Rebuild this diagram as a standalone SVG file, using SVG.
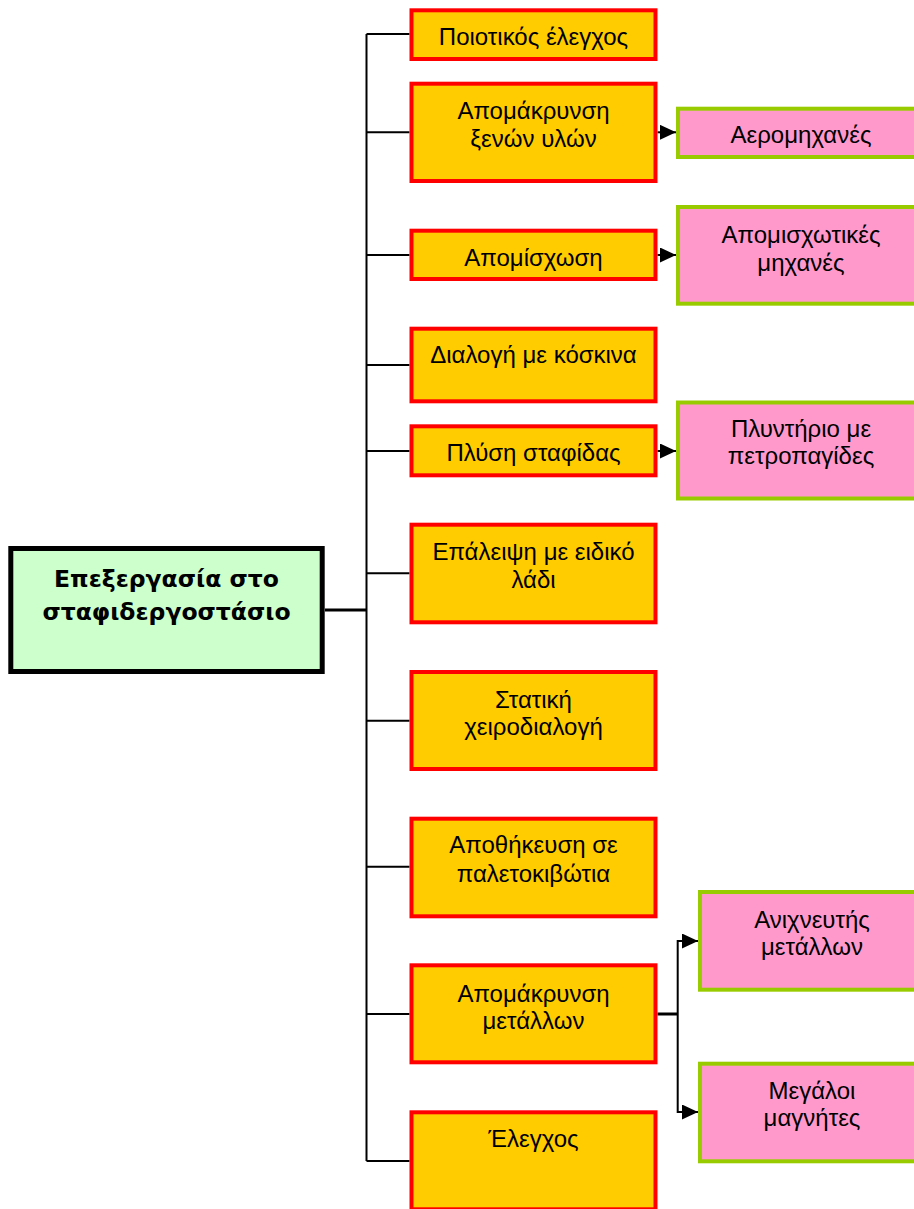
<svg xmlns="http://www.w3.org/2000/svg" width="914" height="1209" viewBox="0 0 914 1209">
<style>
.y{fill:#FFCC00;stroke:#FF0000;stroke-width:4}
.p{fill:#FF99CC;stroke:#99CC00;stroke-width:4}
.m{fill:#CCFFCC;stroke:#000;stroke-width:5}
.t{font-family:"Liberation Sans",Arial,sans-serif;font-size:24px;fill:#000;text-anchor:middle}
.tb{font-family:"DejaVu Sans",Verdana,sans-serif;font-size:23.5px;font-weight:bold;fill:#000;text-anchor:middle}
.c{fill:none;stroke:#000;stroke-width:2}
</style>
<defs>
<marker id="ah" viewBox="0 0 16 15" refX="16" refY="7.5" markerWidth="16" markerHeight="15" markerUnits="userSpaceOnUse" orient="auto">
<path d="M0,0 L16,7.5 L0,15 z" fill="#000"/>
</marker>
</defs>
<g id="connectors">
<path class="c" d="M366.5,34 V1161"/>
<path class="c" d="M325,610 H366.5" style="stroke-width:3"/>
<path class="c" d="M366.5,34 H409.5 M366.5,132.3 H409.5 M366.5,255 H409.5 M366.5,365 H409.5 M366.5,451 H409.5 M366.5,573.3 H409.5 M366.5,720.7 H409.5 M366.5,866.7 H409.5 M366.5,1014 H409.5 M366.5,1161 H409.5"/>
<path class="c" d="M657.5,132.3 H676" marker-end="url(#ah)"/>
<path class="c" d="M657.5,255 H676" marker-end="url(#ah)"/>
<path class="c" d="M657.5,451 H676" marker-end="url(#ah)"/>
<path class="c" d="M657.5,1014 H677.7" style="stroke-width:3"/>
<path class="c" d="M677.7,1014 V941 H698" marker-end="url(#ah)"/>
<path class="c" d="M677.7,1014 V1112 H698" marker-end="url(#ah)"/>
</g>
<g id="main">
<rect class="m" x="10.8" y="548.5" width="311.4" height="123"/>
<text class="tb" x="166.5" y="586.7">Επεξεργασία στο</text>
<text class="tb" x="166.5" y="620">σταφιδεργοστάσιο</text>
</g>
<g id="n1">
<rect class="y" x="411.5" y="10.3" width="244" height="48.7"/>
<text class="t" x="533.5" y="45">Ποιοτικός έλεγχος</text>
</g>
<g id="n2">
<rect class="y" x="411.5" y="83.7" width="244" height="97.3"/>
<text class="t" x="533.5" y="119.3">Απομάκρυνση</text>
<text class="t" x="533.5" y="146.5">ξενών υλών</text>
</g>
<g id="n3">
<rect class="y" x="411.5" y="230.7" width="244" height="48.3"/>
<text class="t" x="533.5" y="265.5">Απομίσχωση</text>
</g>
<g id="n4">
<rect class="y" x="411.5" y="328.7" width="244" height="72.6"/>
<text class="t" x="533.5" y="363.3">Διαλογή με κόσκινα</text>
</g>
<g id="n5">
<rect class="y" x="411.5" y="426.3" width="244" height="49"/>
<text class="t" x="533.5" y="461">Πλύση σταφίδας</text>
</g>
<g id="n6">
<rect class="y" x="411.5" y="524.7" width="244" height="97.6"/>
<text class="t" x="533.5" y="560">Επάλειψη με ειδικό</text>
<text class="t" x="533.5" y="588.3">λάδι</text>
</g>
<g id="n7">
<rect class="y" x="411.5" y="672" width="244" height="97"/>
<text class="t" x="533.5" y="707.5">Στατική</text>
<text class="t" x="533.5" y="735">χειροδιαλογή</text>
</g>
<g id="n8">
<rect class="y" x="411.5" y="818.7" width="244" height="97.6"/>
<text class="t" x="533.5" y="853.3">Αποθήκευση σε</text>
<text class="t" x="533.5" y="881.7">παλετοκιβώτια</text>
</g>
<g id="n9">
<rect class="y" x="411.5" y="965.3" width="244" height="97"/>
<text class="t" x="533.5" y="1001.7">Απομάκρυνση</text>
<text class="t" x="533.5" y="1029">μετάλλων</text>
</g>
<g id="n10">
<rect class="y" x="411.5" y="1112.3" width="244" height="97"/>
<text class="t" x="533.5" y="1147">Έλεγχος</text>
</g>
<g id="p1">
<rect class="p" x="678" y="108.7" width="246" height="48.3"/>
<text class="t" x="801" y="143.3">Αερομηχανές</text>
</g>
<g id="p2">
<rect class="p" x="678" y="207" width="246" height="96.7"/>
<text class="t" x="801" y="243">Απομισχωτικές</text>
<text class="t" x="801" y="270.5">μηχανές</text>
</g>
<g id="p3">
<rect class="p" x="678" y="402.5" width="246" height="96"/>
<text class="t" x="801" y="437">Πλυντήριο με</text>
<text class="t" x="801" y="464">πετροπαγίδες</text>
</g>
<g id="p4">
<rect class="p" x="700" y="892" width="224" height="97.7"/>
<text class="t" x="812" y="928">Ανιχνευτής</text>
<text class="t" x="812" y="955">μετάλλων</text>
</g>
<g id="p5">
<rect class="p" x="700" y="1063.7" width="224" height="97.6"/>
<text class="t" x="812" y="1099">Μεγάλοι</text>
<text class="t" x="812" y="1126">μαγνήτες</text>
</g>
</svg>
